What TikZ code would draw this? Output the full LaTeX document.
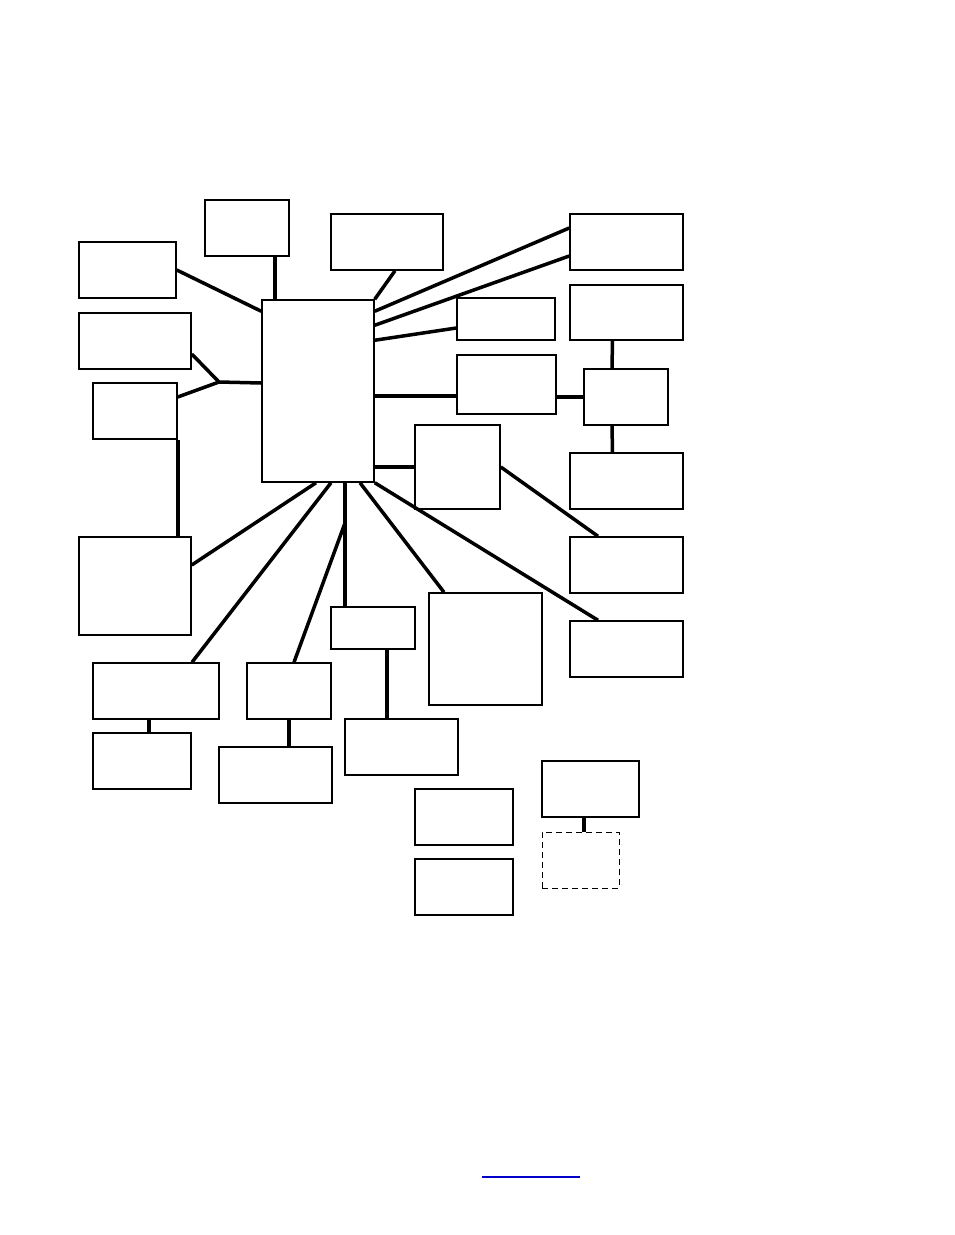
\documentclass[tikz,border=0pt]{standalone}
\usepackage{tikz}
\tikzset{box/.style={draw,line width=1.5pt,inner sep=0pt}}
\tikzset{link/.style={line width=3.5pt}}

\begin{document}
\begin{tikzpicture}[x=1pt,y=-1pt]
                \useasboundingbox (0,0) rectangle (954,1235);
                
                % Centre
                \node[box,minimum width=112,minimum height=182] (m) at (318,391) {};
                
                % Left and top boxes
                \node[box,minimum width=84,minimum height=56] (a) at (247,228) {};
                \node[box,minimum width=97,minimum height=56] (b) at (127.5,270) {};
                \node[box,minimum width=112,minimum height=56] (c) at (387,242) {};
                \node[box,minimum width=112,minimum height=56] (d) at (135,341) {};
                \node[box,minimum width=84,minimum height=56] (e) at (135,411) {};
                \node[box,minimum width=112,minimum height=98] (p) at (135,586) {};
                
                % Right boxes
                \node[box,minimum width=113,minimum height=56] (f) at (626.5,242) {};
                \node[box,minimum width=98,minimum height=42] (g) at (506,319) {};
                \node[box,minimum width=113,minimum height=55] (h) at (626.5,312.5) {};
                \node[box,minimum width=99,minimum height=59] (i) at (506.5,384.5) {};
                \node[box,minimum width=84,minimum height=56] (jj) at (626,397) {};
                \node[box,minimum width=85,minimum height=84] (k) at (457.5,467) {};
                \node[box,minimum width=113,minimum height=56] (l) at (626.5,481) {};
                \node[box,minimum width=113,minimum height=56] (n) at (626.5,565) {};
                \node[box,minimum width=113,minimum height=56] (o) at (626.5,649) {};
                
                % Lower boxes
                \node[box,minimum width=126,minimum height=56] (q) at (156,691) {};
                \node[box,minimum width=84,minimum height=56] (r) at (289,691) {};
                \node[box,minimum width=84,minimum height=42] (s) at (373,628) {};
                \node[box,minimum width=113,minimum height=112] (t) at (485.5,649) {};
                \node[box,minimum width=98,minimum height=56] (u) at (142,761) {};
                \node[box,minimum width=113,minimum height=56] (v) at (275.5,775) {};
                \node[box,minimum width=113,minimum height=56] (w) at (401.5,747) {};
                \node[box,minimum width=98,minimum height=56] (x) at (464,817) {};
                \node[box,minimum width=98,minimum height=56] (y) at (464,887) {};
                \node[box,minimum width=97,minimum height=56] (z) at (590.5,789) {};
                \node[box,line width=1pt,dash pattern=on 6pt off 4pt,minimum width=77,minimum height=56] (zd) at (580.5,860) {};
                
                \coordinate (jn) at (219,382);
                \coordinate (br) at (345,523);
                
                % Links left and top
                \draw[link] ([xshift=28]a.south) -- ([xshift=-43]m.north);
                \draw[link] (b.east) -- ([yshift=-12]m.north west);
                \draw[link] ([xshift=8]c.south) -- (m.north east);
                \draw[link] ([yshift=-13]d.east) -- (jn);
                \draw[link] ([yshift=14]e.east) -- (jn);
                \draw[link] (jn) -- ([yshift=8]m.west);
                \draw[link] (e.south east) -- ([xshift=-14]p.north east);
                
                % Links right
                \draw[link] ([yshift=-12]m.north east) -- ([yshift=14]f.west);
                \draw[link] ([yshift=-26]m.north east) -- ([yshift=-14]f.west);
                \draw[link] ([yshift=-41]m.north east) -- ([yshift=-9]g.west);
                \draw[link] ([yshift=-11.5]i.west) -- ([yshift=-11.5]i.west -| m.east);
                \draw[link] (jj.west) -- (jj.west -| i.east);
                \draw[link] ([xshift=-14]h.south) -- ([xshift=-14]jj.north);
                \draw[link] ([xshift=-14]jj.south) -- ([xshift=-14]l.north);
                \draw[link] (k.west) -- (k.west -| m.east);
                \draw[link] (k.east) -- ([xshift=-28.5]n.north);
                \draw[link] (m.south east) -- ([xshift=-28.5]o.north);
                
                % Links down
                \draw[link] ([xshift=42]m.south) -- ([xshift=-41.5]t.north);
                \draw[link] ([xshift=27]m.south) -- ([xshift=-28]s.north);
                \draw[link] (br) -- ([xshift=5]r.north);
                \draw[link] ([xshift=13]m.south) -- ([xshift=36]q.north);
                \draw[link] ([xshift=-2]m.south) -- ([yshift=21]p.east);
                \draw[link] ([xshift=-7]q.south) -- ([xshift=7]u.north);
                \draw[link] (r.south) -- ([xshift=13.5]v.north);
                \draw[link] ([xshift=14]s.south) -- ([xshift=-14.5]w.north);
                \draw[link] ([xshift=-6.5]z.south) -- ([xshift=3.5]zd.north);
                
                \draw[line width=1.5pt,color={rgb,255:red,0;green,0;blue,200}] (482,1177) -- (580,1177);
\end{tikzpicture}
\end{document}
